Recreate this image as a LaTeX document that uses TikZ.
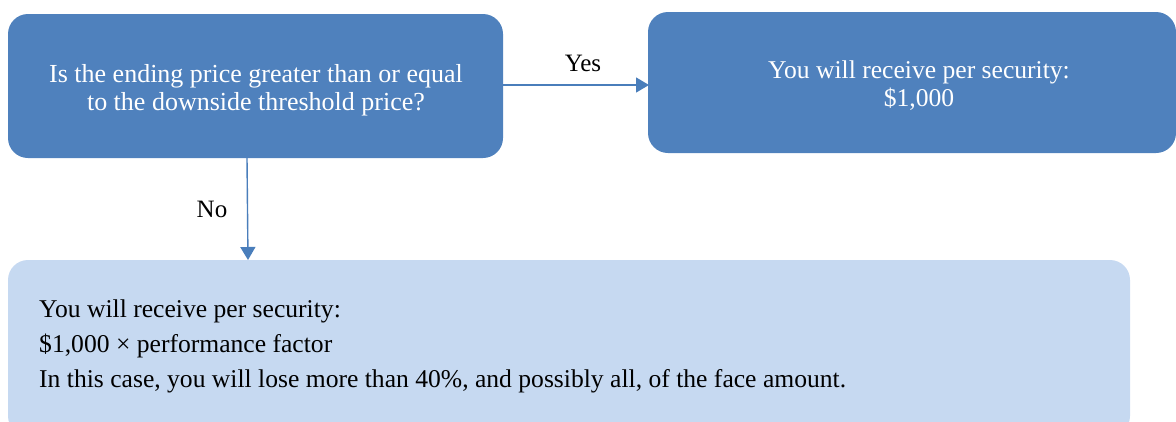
\documentclass[tikz,border=0pt]{standalone}
\usepackage{fontspec}
\setmainfont{Liberation Serif}
\usetikzlibrary{arrows.meta}
\definecolor{dark}{HTML}{4F81BD}
\definecolor{light}{HTML}{C6D9F1}
\definecolor{arr}{HTML}{4A7EBB}
\tikzset{
  box/.style={rounded corners=20pt, inner sep=0pt},
  conn/.style={draw=arr, line width=1.4pt, -{Triangle[length=13pt,width=15pt]}},
  lbl/.style={font=\fontsize{25}{28}\selectfont, text=black, inner sep=0pt},
  btext/.style={text=white, align=center, inner sep=0pt, font=\fontsize{26}{27.5}\selectfont},
}
\begin{document}
\begin{tikzpicture}[x=1pt,y=-1pt]
\useasboundingbox (0,0) rectangle (1176,421);
\begin{scope}
\clip (0,0) rectangle (1176,421);
\fill[dark, box] (8,14) rectangle (503,158);
\fill[dark, box] (648,12) rectangle (1176,153);
\fill[light, box] (8,260) rectangle (1130,436);
\end{scope}
\node[btext] (At) at (256,90) {Is the ending price greater than or equal\\to the downside threshold price?};
\node[btext, font=\fontsize{25.6}{28}\selectfont] (Bt) at (919,86) {You will receive per security:\\\$1,000};
\node[anchor=west, align=left, inner sep=0pt, font=\fontsize{25.6}{35}\selectfont] (Ct) at (39,346) {You will receive per security:\\\$1,000 × performance factor\\In this case, you will lose more than 40\%, and possibly all, of the face amount.};
\coordinate (ya) at (503,85);
\coordinate (yb) at (649,85);
\coordinate (na) at (247,158);
\coordinate (nb) at (248,260);
\draw[conn] (ya) -- (yb);
\draw[conn] (na) -- (nb);
\node[lbl] (yes) at (583,63.5) {Yes};
\node[lbl] (no) at (212,209) {No};
\end{tikzpicture}
\end{document}
